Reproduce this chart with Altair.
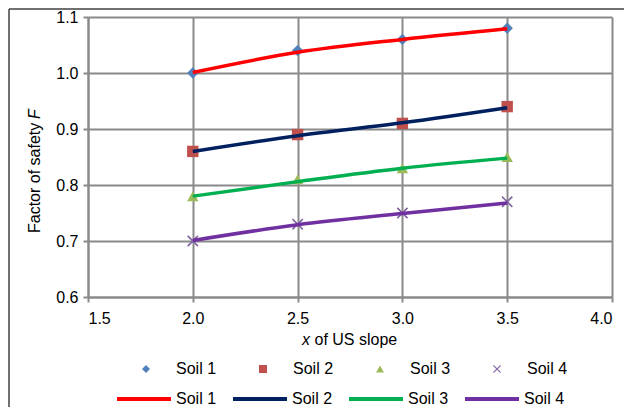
import altair as alt
import pandas as pd

x_vals = [2.0, 2.5, 3.0, 3.5]
soils = ["Soil 1", "Soil 2", "Soil 3", "Soil 4"]

# measured data (markers)
soil1_pts = [1.00, 1.04, 1.06, 1.08]
soil2_pts = [0.86, 0.89, 0.91, 0.94]
soil3_pts = [0.78, 0.81, 0.83, 0.85]
soil4_pts = [0.70, 0.73, 0.75, 0.77]

# trend lines
soil1_line = [1.001, 1.037, 1.060, 1.079]
soil2_line = [0.860, 0.888, 0.911, 0.938]
soil3_line = [0.780, 0.806, 0.830, 0.848]
soil4_line = [0.701, 0.729, 0.749, 0.768]

x_ticks = [1.5, 2.0, 2.5, 3.0, 3.5, 4.0]
y_ticks = [0.6, 0.7, 0.8, 0.9, 1.0, 1.1]

marker_colors = ["#4F81BD", "#C0504D", "#9BBB59", "#8064A2"]
line_colors = ["#FF0000", "#002060", "#00B050", "#7030A0"]
x_path = ("M-1,-0.8L-0.8,-1L0,-0.2L0.8,-1L1,-0.8L0.2,0L1,0.8L0.8,1L0,0.2"
          "L-0.8,1L-1,0.8L-0.2,0Z")
shapes = ["diamond", "square", "triangle-up", x_path]

pts_rows, line_rows = [], []
for s, pv, lv in zip(soils, [soil1_pts, soil2_pts, soil3_pts, soil4_pts],
                     [soil1_line, soil2_line, soil3_line, soil4_line]):
    for i, xv in enumerate(x_vals):
        pts_rows.append({"x": xv, "F": pv[i], "series": s, "o": i})
        line_rows.append({"x": xv, "F": lv[i], "series": s, "o": i})
df_pts = pd.DataFrame(pts_rows)
df_line = pd.DataFrame(line_rows)

FONT = "Liberation Sans"
FS = 16

xscale = alt.Scale(domain=[1.5, 4.0], nice=False, zero=False)
yscale = alt.Scale(domain=[0.6, 1.1], nice=False, zero=False)
xaxis = alt.Axis(values=x_ticks, format=".1f", title=None, labelPadding=8)
yaxis = alt.Axis(values=y_ticks, format=".1f", title=None, labelPadding=5)

pt_legend = alt.Legend(orient="none", legendX=50, legendY=344, direction="horizontal",
                       title=None, symbolSize=64, labelOffset=22, columnPadding=38,
                       padding=0, labelFontSize=FS, labelFont=FONT, labelColor="black",
                       symbolStrokeWidth=0)

points = alt.Chart(df_pts).mark_point(filled=True, opacity=1, size=130).encode(
    x=alt.X("x:Q", scale=xscale, axis=xaxis),
    y=alt.Y("F:Q", scale=yscale, axis=yaxis),
    color=alt.Color("series:N", scale=alt.Scale(domain=soils, range=marker_colors), legend=pt_legend),
    shape=alt.Shape("series:N", scale=alt.Scale(domain=soils, range=shapes), legend=pt_legend),
)

ln_legend = alt.Legend(orient="none", legendX=27, legendY=353, direction="horizontal",
                       title=None, symbolType="stroke", symbolSize=2916, symbolStrokeWidth=4,
                       labelOffset=3, columnPadding=8, padding=0, labelFontSize=FS,
                       labelFont=FONT, labelColor="black")

lines = alt.Chart(df_line).mark_line(strokeWidth=3.5, interpolate="monotone").encode(
    x=alt.X("x:Q", scale=xscale, axis=xaxis),
    y=alt.Y("F:Q", scale=yscale, axis=yaxis),
    order="o:Q",
    color=alt.Color("series:N", scale=alt.Scale(domain=soils, range=line_colors), legend=ln_legend),
)

one = pd.DataFrame({"t": ["x"]})
xt1 = alt.Chart(pd.DataFrame({"t": ["x"]})).mark_text(
    font=FONT, fontSize=FS, fontStyle="italic", align="left", baseline="middle", color="black"
).encode(text="t:N", x=alt.value(214), y=alt.value(323))
xt2 = alt.Chart(pd.DataFrame({"t": ["of US slope"]})).mark_text(
    font=FONT, fontSize=FS, align="left", baseline="middle", color="black"
).encode(text="t:N", x=alt.value(226.5), y=alt.value(323))
yt1 = alt.Chart(pd.DataFrame({"t": ["Factor of safety"]})).mark_text(
    font=FONT, fontSize=FS, align="left", baseline="middle", angle=270, color="black"
).encode(text="t:N", x=alt.value(-53), y=alt.value(216))
yt2 = alt.Chart(pd.DataFrame({"t": ["F"]})).mark_text(
    font=FONT, fontSize=FS, fontStyle="italic", align="left", baseline="middle", angle=270, color="black"
).encode(text="t:N", x=alt.value(-53), y=alt.value(102))

frame_top = alt.Chart(one).mark_rule(stroke="#404040", strokeWidth=1.5, clip=False).encode(
    x=alt.value(-79), x2=alt.value(536), y=alt.value(-8)
)
frame_left = alt.Chart(one).mark_rule(stroke="#404040", strokeWidth=1.5, clip=False).encode(
    x=alt.value(-79), y=alt.value(-8), y2=alt.value(393)
)

chart = alt.layer(points, lines, xt1, xt2, yt1, yt2, frame_top, frame_left).resolve_scale(
    color="independent", shape="independent"
).properties(
    width=524, height=280,
    autosize=alt.AutoSizeParams(type="none"),
    padding={"left": 80, "top": 9, "right": 12, "bottom": 110},
).configure_view(stroke=None).configure_axis(
    labelFont=FONT, labelFontSize=FS, labelColor="black",
    gridColor="#8a8a8a", gridWidth=2, domainColor="#8a8a8a", domainWidth=2,
    tickColor="#8a8a8a", tickWidth=2, tickSize=5,
)

chart.save("out.html", embed_options={"renderer": "svg", "actions": False})
